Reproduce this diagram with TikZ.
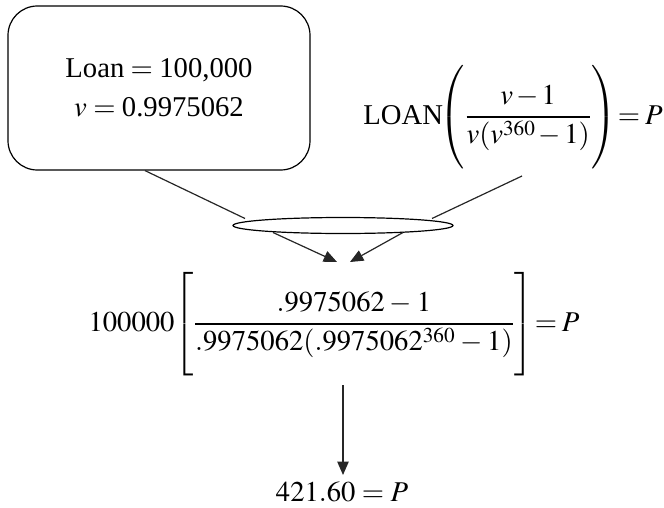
\documentclass[tikz,border=0pt]{standalone}
\usepackage{mathptmx}
\usepackage{fontspec}
\setmainfont{Liberation Serif}
\usetikzlibrary{shapes.geometric,arrows.meta,calc}
\newcommand{\tallstrut}{\rule[-32pt]{0pt}{76pt}}
\tikzset{
  txt/.style={font=\fontsize{21.5}{27}\selectfont, inner sep=0pt, align=center},
  link/.style={line width=0.9pt, draw=black!85},
  tip/.style={-{Triangle[length=10pt,width=8.5pt]}}
}
\begin{document}
\begin{tikzpicture}[x=0.75pt,y=-0.75pt]
\useasboundingbox (0,0) rectangle (664,507);
\node[draw, line width=0.9pt, rounded corners=22pt, minimum width=226.5pt, minimum height=123pt] (box) at (159,88) {};
\node[txt] (given) at (159,88) {Loan${}={}$100,000\\[2pt]$v={}$0.9975062};
\node[txt] (formula) at (513,117) {\thickmuskip=3mu\medmuskip=2mu LOAN$\displaystyle\!\left(\tallstrut\frac{v-1}{v\!\left(v^{360}-1\right)}\right)\!=P$};
\node[draw, ellipse, line width=0.9pt, minimum width=165pt, minimum height=12pt, inner sep=0pt] (ell) at (343,225.5) {};
\node[txt] (calc) at (334,324) {\thickmuskip=3mu\medmuskip=3mu$\displaystyle 100000\!\left[\tallstrut\frac{.9975062-1}{.9975062\!\left(.9975062^{360}-1\right)}\right]\!=P$};
\node[txt] (result) at (342,492) {$421.60=P$};
\draw[link] ($(box.south)+(-14,0)$) -- ($(ell.center)+(-98,-7)$);
\draw[link] ($(formula.center)+(9,59)$) -- ($(ell.center)+(89,-7)$);
\draw[link,tip] ($(ell.center)+(-70,7)$) -- ($(calc.center)+(3,-62)$);
\draw[link,tip] ($(ell.center)+(60,7)$) -- ($(calc.center)+(16,-62)$);
\draw[link,tip] ($(calc.center)+(9,61)$) -- ($(result.center)+(1,-17)$);
\end{tikzpicture}
\end{document}
